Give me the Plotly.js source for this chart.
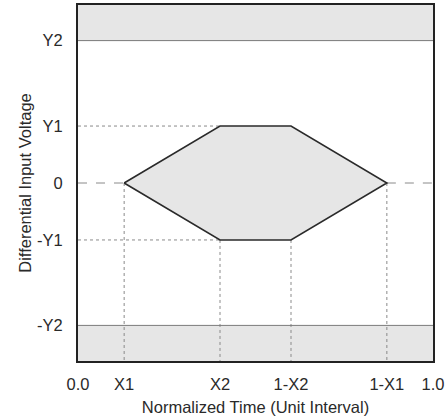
<!DOCTYPE html>
<html><head><meta charset="utf-8">
<script src="https://cdn.plot.ly/plotly-3.0.1.min.js"></script>
<style>html,body{margin:0;padding:0;background:#fff}#chart{width:446px;height:417px}</style>
</head><body><div id="chart"></div>
<script>
// Eye-diagram mask parameters (normalized)
const X1 = 0.13, X2 = 0.40;
const Y1 = 0.40, Y2 = 1.00, YMAX = 1.25;
const xTickVals = [0, X1, X2, 1 - X2, 1 - X1, 1];
const xTickText = ['0.0', 'X1', 'X2', '1-X2', '1-X1', '1.0'];
const yTickVals = [Y2, Y1, 0, -Y1, -Y2];
const yTickText = ['Y2', 'Y1', '0', '-Y1', '-Y2'];
const maskX = [X1, X2, 1 - X2, 1 - X1, 1 - X2, X2, X1];
const maskY = [0, Y1, Y1, 0, -Y1, -Y1, 0];

const fillC = '#e6e6e6';
const guide = {color: '#8a8a8a', width: 1, dash: 'dot'};
const traces = [];
// bands
traces.push({x: [0, 1, 1, 0, 0], y: [Y2, Y2, YMAX, YMAX, Y2], fill: 'toself', fillcolor: fillC, mode: 'lines', line: {width: 0}, hoverinfo: 'skip'});
traces.push({x: [0, 1, 1, 0, 0], y: [-Y2, -Y2, -YMAX, -YMAX, -Y2], fill: 'toself', fillcolor: fillC, mode: 'lines', line: {width: 0}, hoverinfo: 'skip'});
// guide lines
const g = (xs, ys, dash) => traces.push({x: xs, y: ys, mode: 'lines', line: Object.assign({}, guide, dash ? {dash: dash} : {}), hoverinfo: 'skip'});
g([0, X1], [0, 0], 'dash');
g([1 - X1, 1], [0, 0], 'dash');
g([0, X2], [Y1, Y1]);
g([0, X2], [-Y1, -Y1]);
g([X1, X1], [0, -YMAX]);
g([1 - X1, 1 - X1], [0, -YMAX]);
g([X2, X2], [-Y1, -YMAX]);
g([1 - X2, 1 - X2], [-Y1, -YMAX]);
// band boundary lines
traces.push({x: [0, 1], y: [Y2, Y2], mode: 'lines', line: {color: '#7a7a7a', width: 1}, hoverinfo: 'skip'});
traces.push({x: [0, 1], y: [-Y2, -Y2], mode: 'lines', line: {color: '#7a7a7a', width: 1}, hoverinfo: 'skip'});
// mask hexagon
traces.push({x: maskX, y: maskY, fill: 'toself', fillcolor: fillC, mode: 'lines', line: {color: '#2a2a2a', width: 1.6}, hoverinfo: 'skip'});

const font = {family: 'Liberation Sans, Arial, sans-serif', size: 16, color: '#2a2a2a'};
const layout = {
  width: 446, height: 417,
  margin: {l: 78, r: 13, t: 5, b: 56},
  showlegend: false,
  paper_bgcolor: '#fff', plot_bgcolor: '#fff',
  font: font,
  xaxis: {range: [0, 1], tickvals: xTickVals, ticktext: xTickText, showgrid: false, zeroline: false,
    showline: true, mirror: true, linecolor: '#222', linewidth: 2, ticks: '', ticklabelstandoff: 7,
    tickfont: {size: 16.5}, automargin: false,
    title: {text: 'Normalized Time (Unit Interval)', font: {size: 16.5}, standoff: 10}},
  yaxis: {range: [-YMAX, YMAX], tickvals: yTickVals, ticktext: yTickText, showgrid: false, zeroline: false,
    showline: true, mirror: true, linecolor: '#222', linewidth: 2, ticks: '', ticklabelstandoff: 10,
    tickfont: {size: 16.5}, automargin: false,
    title: {text: 'Differential Input Voltage', font: {size: 16.5}, standoff: 1}}
};
Plotly.newPlot('chart', traces, layout, {displayModeBar: false, staticPlot: true});
</script></body></html>
